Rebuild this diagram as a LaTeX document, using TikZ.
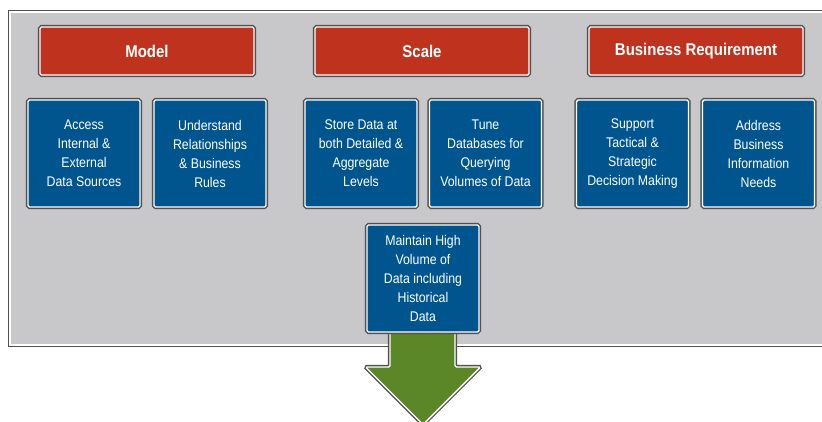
\documentclass[tikz,border=0pt]{standalone}
\usepackage{fontspec}
\setmainfont[FakeStretch=0.88]{Liberation Sans}
\definecolor{panelgray}{HTML}{C8C8CA}
\definecolor{bordergray}{HTML}{505050}
\definecolor{titlered}{HTML}{BE321E}
\definecolor{boxblue}{HTML}{00558F}
\definecolor{arrowgreen}{HTML}{5C8728}
\tikzset{
  framed/.style={draw=white, line width=1.4pt, rounded corners=1.5pt,
    preaction={draw=bordergray, line width=4.2pt, rounded corners=1.5pt}},
  titlebox/.style={framed, fill=titlered, text=white, inner sep=0pt,
    minimum width=214pt, minimum height=48pt,
    font=\fontsize{17}{20}\selectfont\bfseries},
  infobox/.style={framed, fill=boxblue, text=white, inner sep=0pt, align=center,
    minimum width=112pt, minimum height=107pt,
    font=\fontsize{14}{19}\selectfont},
}
\begin{document}
\begin{tikzpicture}[x=1pt,y=-1pt]
\useasboundingbox (0,0) rectangle (822,421);
\clip (0,0) rectangle (822,421);
% panel
\path[framed, rounded corners=0pt, fill=panelgray] (10,12) rectangle (840,345);
% titles
\node[titlebox] (model) at (147,51) {Model};
\node[titlebox] (scale) at (422,51) {Scale};
\node[titlebox] (busreq) at (696,51) {Business Requirement};
% info boxes
\node[infobox] (access) at (84,153.5) {Access\\Internal \&\\External\\Data Sources};
\node[infobox] (underst) at (210,153.5) {Understand\\Relationships\\\& Business\\Rules};
\node[infobox] (store) at (361,153.5) {Store Data at\\both Detailed \&\\Aggregate\\Levels};
\node[infobox] (tune) at (485.5,153.5) {Tune\\Databases for\\Querying\\Volumes of Data};
\node[infobox] (support) at (632.5,153.5) {Support\\Tactical \&\\Strategic\\Decision Making};
\node[infobox] (address) at (758.5,153.5) {Address\\Business\\Information\\Needs};
% arrow
\path[framed, fill=arrowgreen] (390,300) -- (390,367) -- (365.5,367) -- (423,424.5)
  -- (480.5,367) -- (455,367) -- (455,300) -- cycle;
\node[infobox] (maintain) at (423,278.5) {Maintain High\\Volume of\\Data including\\Historical\\Data};
\end{tikzpicture}
\end{document}
